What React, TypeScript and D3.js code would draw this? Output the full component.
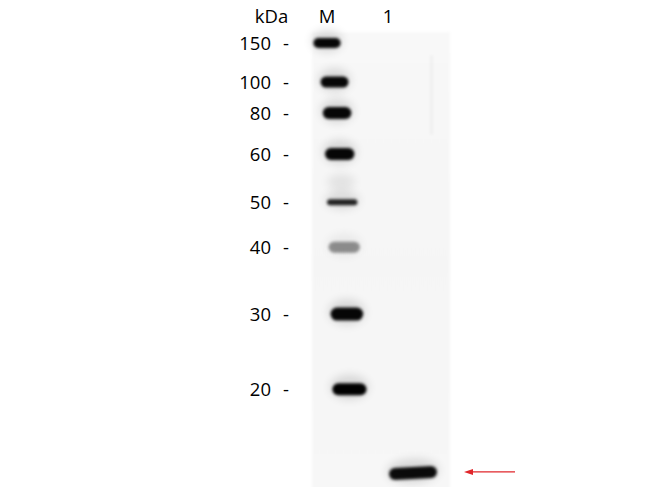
import React from "react";
import * as d3 from "d3";

// ---- data read from the blot ----
const markerKDa = [150, 100, 80, 60, 50, 40, 30, 20];
// relative mobility (fraction of membrane length migrated)
const markerMobility = [0.024, 0.11, 0.178, 0.268, 0.374, 0.473, 0.62, 0.785];
const markerIntensity = [0.97, 0.97, 0.97, 0.97, 0.85, 0.4, 0.97, 1.0];
const laneLabels = ["M", "1"];
const sampleMobility = [0.969];
const sampleIntensity = [0.95];
const unitLabel = "kDa";

const W = 650;
const H = 487;

export default function App() {
  // membrane geometry
  const memTop = 32;
  const memBottom = 487;
  const memLeft = 312;
  const memRight = 450;

  const y = d3.scaleLinear().domain([0, 1]).range([memTop, memBottom]);
  const lane = d3.scalePoint<string>().domain(laneLabels).range([327, 388]);
  // gel skew: lanes drift rightwards with migration
  const drift = (rf: number) => 25 * Math.sqrt(Math.max(0, rf - 0.024) / 0.945);

  const thickness: Record<number, number> = {
    150: 10, 100: 11, 80: 12, 60: 12, 50: 6, 40: 11, 30: 13, 20: 12,
  };

  const markerBands = markerKDa.map((k, i) => {
    const rf = markerMobility[i];
    const cx = (lane("M") as number) + drift(rf);
    const w = 27 + 9 * rf;
    return { k, rf, cx, cy: y(rf), w, h: thickness[k], o: markerIntensity[i] };
  });

  const sampleBands = sampleMobility.map((rf, i) => ({
    rf,
    cx: (lane("1") as number) + drift(rf),
    cy: y(rf),
    w: 48,
    h: 12,
    o: sampleIntensity[i],
  }));

  const labelX = 271;
  const dashX = 283;
  const font = "'Open Sans', 'Liberation Sans', sans-serif";
  const fs = 18.5;

  return (
    <svg
      width={W}
      height={H}
      viewBox={`0 0 ${W} ${H}`}
      style={{ position: "absolute", left: 0, top: 0, background: "#fff" }}
    >
      <defs>
        <filter id="blurCore" x="-50%" y="-100%" width="200%" height="300%">
          <feGaussianBlur stdDeviation="1.6" />
        </filter>
        <filter id="blurHalo" x="-50%" y="-100%" width="200%" height="300%">
          <feGaussianBlur stdDeviation="5" />
        </filter>
        <filter id="blurMem" x="-10%" y="-10%" width="120%" height="120%">
          <feGaussianBlur stdDeviation="1.5" />
        </filter>
        <linearGradient id="memGrad" x1="0" y1="0" x2="0" y2="1">
          <stop offset="0" stopColor="#f8f8f8" />
          <stop offset="0.5" stopColor="#f5f5f5" />
          <stop offset="1" stopColor="#f7f7f7" />
        </linearGradient>
      </defs>
      <rect width={W} height={H} fill="#fff" />

      {/* membrane */}
      <rect
        x={memLeft}
        y={memTop}
        width={memRight - memLeft}
        height={memBottom - memTop + 10}
        fill="url(#memGrad)"
        filter="url(#blurMem)"
      />
      {/* faint streak in lane 1 */}
      <rect x={430} y={55} width={3} height={80} fill="#000" opacity={0.03} filter="url(#blurCore)" />
      {/* faint smear above the 50 kDa band */}
      <ellipse
        cx={(lane("M") as number) + drift(0.33)}
        cy={y(0.33)}
        rx={14}
        ry={8}
        fill="#000"
        opacity={0.08}
        filter="url(#blurHalo)"
      />

      {/* marker lane */}
      {markerBands.map((b) => (
        <g key={b.k}>
          <ellipse
            cx={b.cx}
            cy={b.cy - 2}
            rx={b.w / 2 + 2}
            ry={b.h / 2 + 6}
            fill="#000"
            opacity={0.13 * b.o}
            filter="url(#blurHalo)"
          />
          <rect
            x={b.cx - b.w / 2}
            y={b.cy - b.h / 2}
            width={b.w}
            height={b.h}
            rx={b.h / 2}
            fill="#050505"
            opacity={b.o}
            filter="url(#blurCore)"
          />
        </g>
      ))}

      {/* sample lane */}
      {sampleBands.map((b, i) => (
        <g key={i} transform={`rotate(-3 ${b.cx} ${b.cy})`}>
          <ellipse
            cx={b.cx}
            cy={b.cy - 2}
            rx={b.w / 2 + 2}
            ry={b.h / 2 + 6}
            fill="#000"
            opacity={0.13}
            filter="url(#blurHalo)"
          />
          <rect
            x={b.cx - b.w / 2}
            y={b.cy - b.h / 2}
            width={b.w}
            height={b.h}
            rx={b.h / 2}
            fill="#050505"
            opacity={b.o}
            filter="url(#blurCore)"
          />
        </g>
      ))}

      {/* header */}
      <text x={271.5} y={23} textAnchor="middle" fontFamily={font} fontSize={fs} fill="#000">
        {unitLabel}
      </text>
      {laneLabels.map((l) => (
        <text
          key={l}
          x={lane(l) as number}
          y={23}
          textAnchor="middle"
          fontFamily={font}
          fontSize={fs}
          fill="#000"
        >
          {l}
        </text>
      ))}

      {/* size labels */}
      {markerBands.map((b) => (
        <g key={"l" + b.k} fontFamily={font} fontSize={fs} fill="#000">
          <text x={labelX} y={b.cy} dy="0.36em" textAnchor="end">
            {b.k}
          </text>
          <text x={dashX} y={b.cy} dy="0.36em">
            -
          </text>
        </g>
      ))}

      {/* red arrow marking the sample band */}
      {sampleBands.map((b, i) => (
        <g key={"a" + i}>
          <line x1={470} x2={515} y1={b.cy - 1} y2={b.cy - 1} stroke="#e0262b" strokeWidth={1.4} />
          <path
            d={`M464,${b.cy - 1} L473,${b.cy - 4} L473,${b.cy + 2} Z`}
            fill="#e0262b"
          />
        </g>
      ))}
    </svg>
  );
}
